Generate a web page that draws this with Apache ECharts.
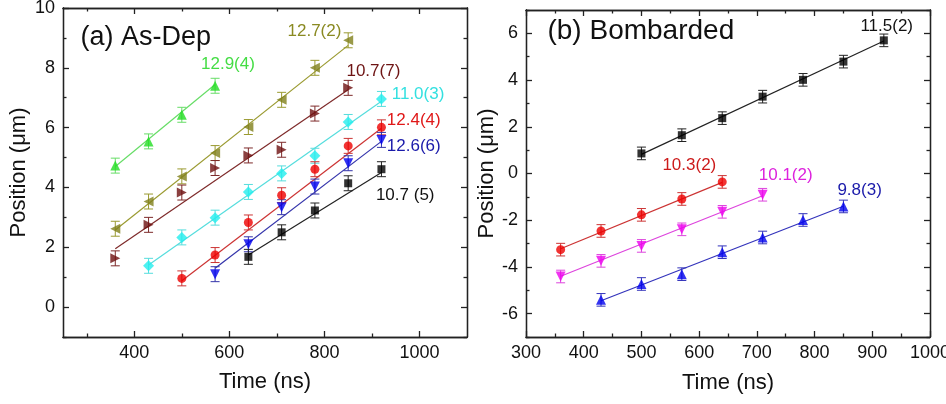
<!DOCTYPE html>
<html><head><meta charset="utf-8">
<script src="https://cdn.jsdelivr.net/npm/echarts@6/dist/echarts.min.js"></script>
<style>html,body{margin:0;padding:0;background:#fff}#c{width:946px;height:404px}</style>
</head><body><div id="c"></div>
<script>
// ---------- Panel (a) As-Dep ----------
const aGreenT = [360, 430, 500, 570];
const aGreenP = [4.73, 5.54, 6.43, 7.40];
const aGreenFit = [4.70, 7.44];
const aOliveT = [360, 430, 500, 570, 640, 710, 780, 850];
const aOliveP = [2.62, 3.53, 4.37, 5.15, 6.02, 6.93, 8.00, 8.92];
const aOliveFit = [2.58, 8.75];
const aDredT = [360, 430, 500, 570, 640, 710, 780, 850];
const aDredP = [1.63, 2.75, 3.83, 4.65, 5.07, 5.26, 6.47, 7.33];
const aDredFit = [1.95, 7.27];
const aCyanT = [430, 500, 570, 640, 710, 780, 850, 920];
const aCyanP = [1.38, 2.33, 2.99, 3.85, 4.47, 5.06, 6.19, 6.96];
const aCyanFit = [1.41, 6.88];
const aRedT = [500, 570, 640, 710, 780, 850, 920];
const aRedP = [0.96, 1.74, 2.83, 3.74, 4.61, 5.39, 6.01];
const aRedFit = [0.88, 5.98];
const aBlueT = [570, 640, 710, 780, 850, 920];
const aBlueP = [1.10, 2.10, 3.34, 4.03, 4.81, 5.59];
const aBlueFit = [1.30, 5.54];
const aBlackT = [640, 710, 780, 850, 920];
const aBlackP = [1.68, 2.50, 3.23, 4.14, 4.61];
const aBlackFit = [1.74, 4.50];
const aErr = 0.25;
const aSlopeLabels = ['12.9(4)', '12.7(2)', '10.7(7)', '11.0(3)', '12.4(4)', '12.6(6)', '10.7 (5)'];
const aLabelX = [597, 779, 903, 997, 988, 988, 970];
const aLabelY = [8.11, 9.21, 7.87, 7.10, 6.26, 5.36, 3.75];

// ---------- Panel (b) Bombarded ----------
const bBlackT = [500, 570, 640, 710, 780, 850, 920];
const bBlackP = [0.86, 1.64, 2.37, 3.29, 4.01, 4.79, 5.70];
const bBlackFit = [0.82, 5.67];
const bRedT = [360, 430, 500, 570, 640];
const bRedP = [-3.26, -2.46, -1.77, -1.09, -0.36];
const bRedFit = [-3.22, -0.38];
const bMagT = [360, 430, 500, 570, 640, 710];
const bMagP = [-4.41, -3.74, -3.10, -2.39, -1.64, -0.91];
const bMagFit = [-4.40, -0.95];
const bBlueT = [430, 500, 570, 640, 710, 780, 850];
const bBlueP = [-5.41, -4.73, -4.31, -3.37, -2.74, -1.99, -1.41];
const bBlueFit = [-5.45, -1.40];
const bErr = 0.27;
const bSlopeLabels = ['11.5(2)', '10.3(2)', '10.1(2)', '9.8(3)'];
const bLabelX = [925, 583, 750, 878];
const bLabelY = [6.29, 0.37, -0.06, -0.70];

// ---------- Axes ticks ----------
const aXLabels = [400, 600, 800, 1000];
const aXMinor = [300, 500, 700, 900];
const aYLabels = [0, 2, 4, 6, 8, 10];
const aYMinor = [-1, 1, 3, 5, 7, 9];
const bXLabels = [300, 400, 500, 600, 700, 800, 900, 1000];
const bXMinor = [350, 450, 550, 650, 750, 850, 950];
const bYLabels = [-6, -4, -2, 0, 2, 4, 6];
const bYMinor = [-7, -5, -3, -1, 1, 3, 5, 7];

const FONT = 'Liberation Sans, Arial, sans-serif';

function axes(isX, grid, min, max, majors, minors, name, nameGap) {
  const pos = isX ? ['bottom', 'top'] : ['left', 'right'];
  const list = [];
  pos.forEach((p, pi) => {
    [majors, minors].forEach((vals, mi) => {
      const main = pi === 0 && mi === 0;
      list.push({
        type: 'value', gridIndex: grid, position: p, min: min, max: max,
        name: main ? name : '', nameLocation: 'middle', nameGap: nameGap,
        nameTextStyle: { fontFamily: FONT, fontSize: 22, color: '#111' },
        axisLine: { show: true, onZero: false, lineStyle: { color: '#222', width: 1.3 } },
        axisTick: { show: true, inside: true, length: mi === 0 ? 6 : 3.5, customValues: vals, lineStyle: { color: '#222', width: 1.3 } },
        axisLabel: {
          show: true, customValues: vals, fontFamily: FONT, fontSize: 18,
          color: main ? '#111' : 'rgba(0,0,0,0)', margin: isX ? 7 : 8,
          formatter: function (v) { return main ? String(v) : ''; }
        },
        splitLine: { show: false }
      });
    });
  });
  return list;
}

const series = [];
function addSeries(xi, T, P, fit, err, color, lineColor, symbol, rot, size) {
  series.push({
    type: 'line', xAxisIndex: xi, yAxisIndex: xi, symbol: 'none', silent: true,
    data: [[T[0], fit[0]], [T[T.length - 1], fit[1]]],
    lineStyle: { color: lineColor, width: 1.2 }, z: 2
  });
  series.push({
    type: 'custom', xAxisIndex: xi, yAxisIndex: xi, silent: true, z: 3,
    data: T.map((t, i) => [t, P[i]]),
    renderItem: function (params, api) {
      const x = api.value(0), y = api.value(1);
      const top = api.coord([x, y + err]);
      const bot = api.coord([x, y - err]);
      const w = 4.5;
      const st = { stroke: lineColor, lineWidth: 1 };
      return { type: 'group', children: [
        { type: 'line', shape: { x1: top[0], y1: top[1], x2: bot[0], y2: bot[1] }, style: st },
        { type: 'line', shape: { x1: top[0] - w, y1: top[1], x2: top[0] + w, y2: top[1] }, style: st },
        { type: 'line', shape: { x1: bot[0] - w, y1: bot[1], x2: bot[0] + w, y2: bot[1] }, style: st }
      ] };
    }
  });
  series.push({
    type: 'scatter', xAxisIndex: xi, yAxisIndex: xi, silent: true, z: 4,
    symbol: symbol, symbolRotate: rot, symbolSize: size,
    itemStyle: { color: color },
    data: T.map((t, i) => [t, P[i]])
  });
}

// panel (a)
addSeries(0, aGreenT, aGreenP, aGreenFit, aErr, '#22dd22', '#66dd66', 'triangle', 0, 10);
addSeries(0, aOliveT, aOliveP, aOliveFit, aErr, '#7f7f1a', '#9a9a30', 'triangle', 90, 10);
addSeries(0, aDredT, aDredP, aDredFit, aErr, '#6e1010', '#7e2a2a', 'triangle', -90, 10);
addSeries(0, aCyanT, aCyanP, aCyanFit, aErr, '#22eeee', '#55dddd', 'diamond', 0, 11);
addSeries(0, aRedT, aRedP, aRedFit, aErr, '#ee0000', '#cc3333', 'circle', 0, 9);
addSeries(0, aBlueT, aBlueP, aBlueFit, aErr, '#0000ee', '#3333aa', 'triangle', 180, 10);
addSeries(0, aBlackT, aBlackP, aBlackFit, aErr, '#000000', '#222222', 'rect', 0, 8);

// panel (b)
addSeries(4, bBlackT, bBlackP, bBlackFit, bErr, '#000000', '#222222', 'rect', 0, 8);
addSeries(4, bRedT, bRedP, bRedFit, bErr, '#ee0000', '#cc3333', 'circle', 0, 9);
addSeries(4, bMagT, bMagP, bMagFit, bErr, '#ee00ee', '#dd44dd', 'triangle', 180, 10);
addSeries(4, bBlueT, bBlueP, bBlueFit, bErr, '#0000ee', '#3333bb', 'triangle', 0, 10);

const option = {
  animation: false,
  backgroundColor: '#fff',
  grid: [
    { left: 63, top: 8, width: 404, height: 329, outerBoundsMode: 'none', containLabel: false },
    { left: 526, top: 10, width: 404, height: 327, outerBoundsMode: 'none', containLabel: false }
  ],
  xAxis: [].concat(
    axes(true, 0, 250, 1100, aXLabels, aXMinor, 'Time (ns)', 34),
    axes(true, 1, 300, 1000, bXLabels, bXMinor, 'Time (ns)', 35)
  ),
  yAxis: [].concat(
    axes(false, 0, -1, 10, aYLabels, aYMinor, 'Position (\u03bcm)', 33),
    axes(false, 1, -7, 7, bYLabels, bYMinor, 'Position (\u03bcm)', 27)
  ),
  series: series
};
const chart = echarts.init(document.getElementById('c'), null, { renderer: 'canvas' });
chart.setOption(option);

// text annotations placed at data coordinates
const graphics = [];
function addTexts(xi, texts, X, Y, colors, size) {
  texts.forEach((t, i) => {
    const p = chart.convertToPixel({ xAxisIndex: xi, yAxisIndex: xi }, [X[i], Y[i]]);
    graphics.push({ type: 'text', x: p[0], y: p[1], silent: true, z: 100,
      style: { text: t, fill: colors[i], font: size + 'px ' + FONT, textAlign: 'center', textVerticalAlign: 'middle' } });
  });
}
addTexts(0, aSlopeLabels, aLabelX, aLabelY, ['#44dd44', '#8a8a22', '#6e1414', '#33e0e0', '#e01818', '#1a1aaa', '#111111'], 17);
addTexts(0, ['(a) As-Dep'], [424], [9.01], ['#111111'], 27);
addTexts(4, bSlopeLabels, bLabelX, bLabelY, ['#111111', '#cc1a1a', '#dd22dd', '#1a1aaa'], 17);
addTexts(4, ['(b) Bombarded'], [499], [6.07], ['#111111'], 28);
chart.setOption({ graphic: graphics });
</script>
</body></html>
